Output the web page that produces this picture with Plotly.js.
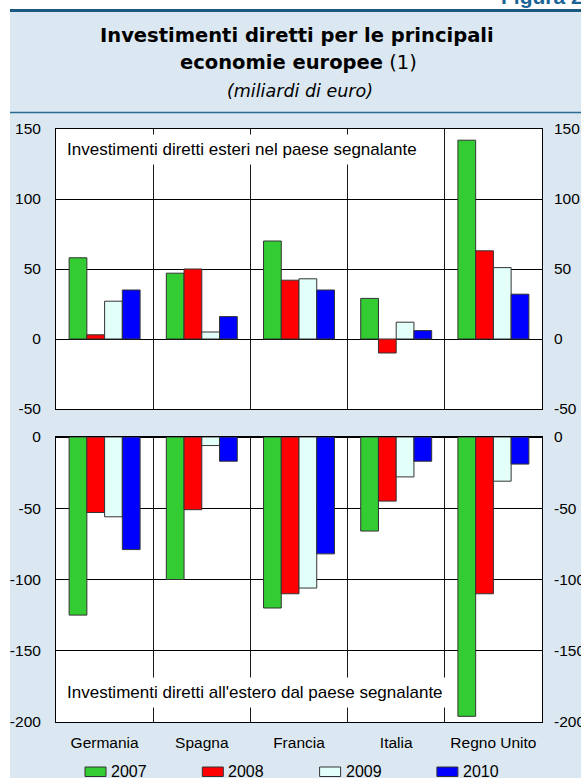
<!DOCTYPE html>
<html>
<head>
<meta charset="utf-8">
<script src="https://cdn.plot.ly/plotly-3.0.1.min.js"></script>
<style>
  html, body { margin: 0; padding: 0; background: #ffffff; }
  #chart { width: 581px; height: 778px; }
</style>
</head>
<body>
<div id="chart"></div>
<script>
// ---- data (miliardi di euro) ----
const categories = ['Germania', 'Spagna', 'Francia', 'Italia', 'Regno Unito'];
const years = ['2007', '2008', '2009', '2010'];
const colors = ['#33cc33', '#ff0000', '#e2fff9', '#0000ff'];

// Investimenti diretti esteri nel paese segnalante
const inward2007 = [58, 47, 70, 29, 142];
const inward2008 = [3, 50, 42, -10, 63];
const inward2009 = [27, 5, 43, 12, 51];
const inward2010 = [35, 16, 35, 6, 32];

// Investimenti diretti all'estero dal paese segnalante
const outward2007 = [-125, -100, -120, -66, -196];
const outward2008 = [-53, -51, -110, -45, -110];
const outward2009 = [-56, -6, -106, -28, -31];
const outward2010 = [-79, -17, -82, -17, -19];

const topTicks = [-50, 0, 50, 100, 150];
const topTickText = ['-50', '0', '50', '100', '150'];
const bottomTicks = [-200, -150, -100, -50, 0];
const bottomTickText = ['-200', '-150', '-100', '-50', '0'];

const titleLine1 = 'Investimenti diretti per le principali';
const titleLine2a = 'economie europee';
const titleLine2b = ' (1)';
const titleLine3 = '(miliardi di euro)';
const topLabel = 'Investimenti diretti esteri nel paese segnalante';
const bottomLabel = "Investimenti diretti all'estero dal paese segnalante";
const figLabel = 'Figura 2';

// ---- geometry helpers (pixels -> paper) ----
const W = 581, H = 778;
const px = x => x / W;
const py = y => 1 - y / H;

const FONT = 'Liberation Sans, Arial, Helvetica, sans-serif';
const TFONT = 'DejaVu Sans, sans-serif';

const inward = [inward2007, inward2008, inward2009, inward2010];
const outward = [outward2007, outward2008, outward2009, outward2010];

const traces = [];
inward.forEach((vals, i) => {
  traces.push({
    type: 'bar', x: categories, y: vals, name: years[i],
    xaxis: 'x', yaxis: 'y',
    marker: { color: colors[i], line: { color: '#333333', width: 1 } },
    showlegend: false, hoverinfo: 'x+y+name'
  });
});
outward.forEach((vals, i) => {
  traces.push({
    type: 'bar', x: categories, y: vals, name: years[i],
    xaxis: 'x2', yaxis: 'y2',
    marker: { color: colors[i], line: { color: '#333333', width: 1 } },
    showlegend: false, hoverinfo: 'x+y+name'
  });
});
// empty traces to carry the right-hand mirrored axes
traces.push({ type: 'scatter', x: [], y: [], xaxis: 'x', yaxis: 'y3', showlegend: false, hoverinfo: 'skip' });
traces.push({ type: 'scatter', x: [], y: [], xaxis: 'x2', yaxis: 'y4', showlegend: false, hoverinfo: 'skip' });

const tickFont = { family: FONT, size: 15.5, color: '#000000' };
const xDomain = [px(56), px(542)];

const baseX = {
  type: 'category', domain: xDomain, tickson: 'boundaries',
  showgrid: true, gridcolor: '#1a1a1a', gridwidth: 1,
  showline: true, mirror: true, linecolor: '#000000', linewidth: 1,
  ticks: '', zeroline: false, fixedrange: true, tickfont: tickFont,
  categoryorder: 'array', categoryarray: categories
};
const baseY = {
  showgrid: true, gridcolor: '#000000', gridwidth: 1,
  showline: true, mirror: true, linecolor: '#000000', linewidth: 1,
  zeroline: true, zerolinecolor: '#000000', zerolinewidth: 1,
  ticks: '', tickfont: tickFont, fixedrange: true, ticklabelstandoff: 11
};

const annotations = [
  { text: '<b>' + titleLine1 + '</b>', x: px(296.5), y: py(35.5), xref: 'paper', yref: 'paper',
    xanchor: 'center', yanchor: 'middle', showarrow: false, font: { family: TFONT, size: 19.5, color: '#000000' } },
  { text: '<b>' + titleLine2a + '</b>' + titleLine2b, x: px(298.5), y: py(62.5), xref: 'paper', yref: 'paper',
    xanchor: 'center', yanchor: 'middle', showarrow: false, font: { family: TFONT, size: 19.5, color: '#000000' } },
  { text: '<i>' + titleLine3 + '</i>', x: px(299.5), y: py(90.5), xref: 'paper', yref: 'paper',
    xanchor: 'center', yanchor: 'middle', showarrow: false, font: { family: TFONT, size: 17.5, color: '#000000' } },
  { text: '<b>' + figLabel + '</b>', x: px(499), y: py(-3.5), xref: 'paper', yref: 'paper',
    xanchor: 'left', yanchor: 'middle', showarrow: false, font: { family: FONT, size: 21, color: '#1a6496' } },
  { text: topLabel, x: px(61), y: py(149), xref: 'paper', yref: 'paper',
    xanchor: 'left', yanchor: 'middle', showarrow: false, bgcolor: '#ffffff', borderpad: 5,
    font: { family: FONT, size: 17, color: '#000000' } },
  { text: bottomLabel, x: px(61), y: py(692), xref: 'paper', yref: 'paper',
    xanchor: 'left', yanchor: 'middle', showarrow: false, bgcolor: '#ffffff', borderpad: 5,
    font: { family: FONT, size: 17, color: '#000000' } }
];

const shapes = [
  // white margins outside the framed figure
  { type: 'rect', xref: 'paper', yref: 'paper', x0: 0, x1: px(10), y0: 0, y1: 1, fillcolor: '#ffffff', line: { width: 0 }, layer: 'above' },
  { type: 'rect', xref: 'paper', yref: 'paper', x0: 0, x1: 1, y0: py(9), y1: 1, fillcolor: '#ffffff', line: { width: 0 }, layer: 'above' },
  // header rules
  { type: 'line', xref: 'paper', yref: 'paper', x0: px(10), x1: 1, y0: py(10.5), y1: py(10.5), line: { color: '#1b5a80', width: 3 }, layer: 'above' },
  { type: 'line', xref: 'paper', yref: 'paper', x0: px(10), x1: 1, y0: py(112.5), y1: py(112.5), line: { color: '#2b6a92', width: 1.5 }, layer: 'above' }
];

// legend drawn from years/colors
const legendStep = 117.3;
years.forEach((yr, i) => {
  const x0 = 85 + i * legendStep;
  shapes.push({ type: 'rect', xref: 'paper', yref: 'paper', x0: px(x0), x1: px(x0 + 21), y0: py(776.5), y1: py(767),
    fillcolor: colors[i], line: { color: '#333333', width: 1 }, layer: 'above' });
  annotations.push({ text: yr, x: px(x0 + 24), y: py(771), xref: 'paper', yref: 'paper',
    xanchor: 'left', yanchor: 'middle', showarrow: false, font: { family: FONT, size: 16, color: '#000000' } });
});

const layout = {
  width: W, height: H,
  margin: { l: 0, r: 0, t: 0, b: 0, pad: 0 },
  paper_bgcolor: '#dce8f1', plot_bgcolor: '#ffffff',
  barmode: 'group', bargap: 0.27, bargroupgap: 0,
  showlegend: false,
  font: { family: FONT, size: 15.5, color: '#000000' },
  xaxis: Object.assign({}, baseX, { anchor: 'y', showticklabels: false }),
  yaxis: Object.assign({}, baseY, { domain: [py(409), py(129)], anchor: 'x', range: [-50, 150],
    tickmode: 'array', tickvals: topTicks, ticktext: topTickText }),
  yaxis3: { overlaying: 'y', side: 'right', anchor: 'x', range: [-50, 150],
    tickmode: 'array', tickvals: topTicks, ticktext: topTickText,
    showgrid: false, zeroline: false, showline: false, ticks: '', tickfont: tickFont, fixedrange: true, ticklabelstandoff: 11 },
  xaxis2: Object.assign({}, baseX, { anchor: 'y2', showticklabels: true, ticklabelstandoff: 6 }),
  yaxis2: Object.assign({}, baseY, { domain: [py(722), py(437)], anchor: 'x2', range: [-200, 0],
    tickmode: 'array', tickvals: bottomTicks, ticktext: bottomTickText }),
  yaxis4: { overlaying: 'y2', side: 'right', anchor: 'x2', range: [-200, 0],
    tickmode: 'array', tickvals: bottomTicks, ticktext: bottomTickText,
    showgrid: false, zeroline: false, showline: false, ticks: '', tickfont: tickFont, fixedrange: true, ticklabelstandoff: 11 },
  annotations: annotations,
  shapes: shapes
};

Plotly.newPlot('chart', traces, layout, { staticPlot: true, displayModeBar: false });
</script>
</body>
</html>
